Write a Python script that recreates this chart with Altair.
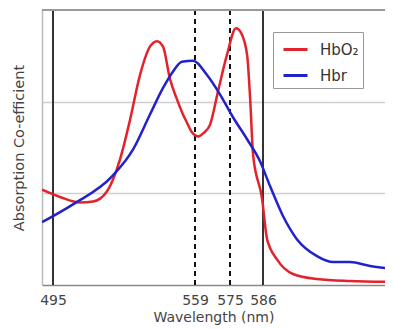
import altair as alt
import pandas as pd

# Wavelength (nm) and absorption values
hbo2_nm = [491, 498.2, 507.2, 513.0, 519.3, 525.2, 529.7, 534.2, 538.7, 541.9, 544.6, 547.7,
           550.8, 553.6, 555.4, 557.8, 560.4, 563.0, 565.9, 569.5, 573.6, 577.0, 578.7, 580.7,
           581.7, 582.7, 585.7, 587.8, 592.2, 599.3, 609.9, 624.5, 644]
hbo2_val = [1.04, 0.96, 0.90, 0.91, 1.02, 1.37, 1.80, 2.29, 2.60, 2.66, 2.60, 2.25,
            2.03, 1.86, 1.77, 1.66, 1.62, 1.66, 1.75, 2.11, 2.51, 2.80, 2.75, 2.51,
            2.04, 1.42, 0.94, 0.50, 0.28, 0.12, 0.065, 0.043, 0.033]

hbr_nm = [491, 504.0, 521.6, 531.1, 538.7, 544.6, 549.1, 553.1, 558.1, 564.5, 570.4, 576.0,
          580.7, 585.0, 589.1, 594.9, 601.0, 609.9, 617.0, 624.5, 633.4, 644]
hbr_val = [0.685, 0.88, 1.185, 1.48, 1.86, 2.15, 2.33, 2.435, 2.446, 2.29, 2.08, 1.83,
           1.59, 1.35, 1.08, 0.75, 0.50, 0.315, 0.25, 0.25, 0.207, 0.174]

series = ["HbO₂", "Hbr"]
colors = ["#e3222b", "#2222cc"]

solid_lines = [495, 586]
dashed_lines = [559, 575]
tick_values = [495, 559, 575, 586]

df = pd.concat([
    pd.DataFrame({"nm": hbo2_nm, "val": hbo2_val, "s": series[0], "o": range(len(hbo2_nm))}),
    pd.DataFrame({"nm": hbr_nm, "val": hbr_val, "s": series[1], "o": range(len(hbr_nm))}),
])

xscale = alt.Scale(domain=[491, 495, 559, 575, 586, 640], range=[0, 11, 153, 188, 221, 343])
yscale = alt.Scale(domain=[0, 3])

FONT = "DejaVu Sans"

x_enc = alt.X("nm:Q", scale=xscale,
              axis=alt.Axis(values=tick_values, grid=False, ticks=False, labelPadding=8,
                            labelFontSize=14, labelColor="#444", labelFont=FONT,
                            domainColor="#888", domainWidth=1.5,
                            title="Wavelength (nm)", titleFontSize=14, titleFont=FONT,
                            titleFontWeight="normal", titleColor="#444", titlePadding=3))
y_enc = alt.Y("val:Q", scale=yscale,
              axis=alt.Axis(values=[1, 2], grid=True, gridColor="#d0d0d0", gridWidth=1.5,
                            labels=False, ticks=False, domainColor="#bbb", domainWidth=1.5,
                            title="Absorption Co-efficient", titleFontSize=14.5, titleFont=FONT,
                            titleFontWeight="normal", titleColor="#444", titlePadding=16))

top = alt.Chart(pd.DataFrame({"v": [3]})).mark_rule(color="#999", strokeWidth=2).encode(
    y=alt.Y("v:Q", scale=yscale))

solid = alt.Chart(pd.DataFrame({"nm": solid_lines})).mark_rule(color="#333", strokeWidth=2).encode(
    x=alt.X("nm:Q", scale=xscale))
dashed = alt.Chart(pd.DataFrame({"nm": dashed_lines})).mark_rule(
    color="#111", strokeWidth=2, strokeDash=[5, 4]).encode(x=alt.X("nm:Q", scale=xscale))

lines = alt.Chart(df).mark_line(strokeWidth=2.5, clip=True, interpolate="monotone").encode(
    x=x_enc, y=y_enc, order="o:Q",
    color=alt.Color("s:N", scale=alt.Scale(domain=series, range=colors),
                    legend=alt.Legend(orient="none", legendX=231, legendY=22, title=None,
                                      symbolType="stroke", symbolStrokeWidth=3, symbolSize=576,
                                      symbolOffset=5,
                                      labelFontSize=15, labelFont=FONT, labelColor="#333",
                                      strokeColor="#999", fillColor="white", padding=4,
                                      rowPadding=4, labelOffset=11)))

chart = alt.layer(solid, dashed, top, lines).properties(
    width=343, height=275,
    autosize=alt.AutoSizeParams(type="none"),
    padding={"left": 34, "top": 2, "right": 0, "bottom": 40},
).configure_view(stroke=None)

chart.save("out.html", embed_options={"renderer": "svg", "actions": False})
